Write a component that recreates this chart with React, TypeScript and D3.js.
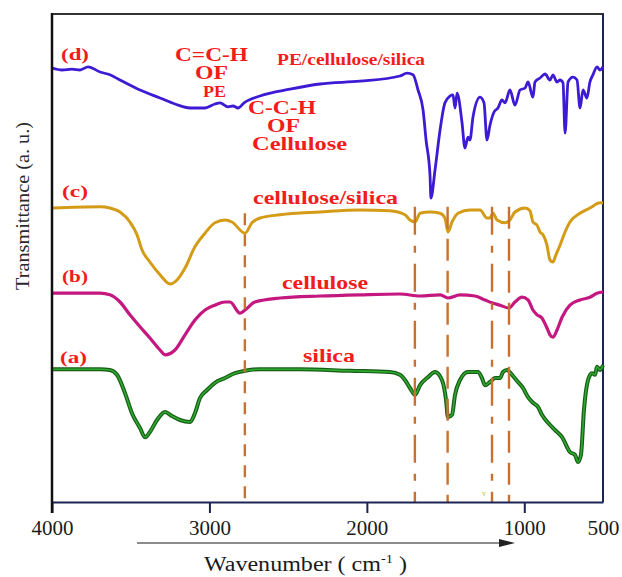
import { useEffect, useRef } from 'react'
import * as d3 from 'd3'

type Pt = [number, number]

// [wavenumber cm-1, transmittance a.u.]
const PE_CELL_SILICA: Pt[] = [[4000,108.5],[3936,108],[3873,108.2],[3822,108],[3771,108.8],[3695,107.5],[3632,106.8],[3568,105.5],[3441,103],[3314,101],[3219,99.5],[3123,98.5],[3028,98.5],[2965,99.5],[2933,99.8],[2882,98.8],[2850,99],[2818,98.5],[2780,99.8],[2679,101.5],[2488,103.2],[2298,104.5],[2044,105.2],[1790,106.5],[1745,107.2],[1707,106.8],[1675,103],[1643,98],[1624,90.5],[1599,81.8],[1593,76],[1567,83],[1535,93],[1504,99.8],[1472,101.5],[1453,101.8],[1440,98.5],[1427,102.2],[1396,95],[1377,88.5],[1358,91.2],[1345,90.5],[1326,96.2],[1281,101.2],[1256,99.8],[1237,90.5],[1218,94.2],[1192,97.5],[1167,98.5],[1142,100.5],[1122,99.8],[1091,103],[1059,99.2],[1027,103],[995,103.5],[976,105],[945,101.2],[932,105],[900,106],[868,107],[837,105.5],[818,106.8],[792,105],[773,105.5],[754,104.8],[741,92.2],[722,105],[691,106.2],[665,105.5],[646,98.5],[627,103],[602,101],[583,105],[564,106.8],[538,108.8],[519,108],[500,108.8]]
const CELL_SILICA: Pt[] = [[4000,73.5],[3695,73.8],[3632,73.5],[3568,72.5],[3505,70],[3460,66.8],[3428,63],[3378,60],[3314,56.8],[3250,54.5],[3206,55.5],[3155,58.5],[3092,63.8],[3028,67.2],[2965,69.8],[2901,70.5],[2857,70],[2774,67.2],[2730,69.8],[2679,71],[2552,71.8],[2298,72.5],[2044,73],[1853,72.8],[1758,71.8],[1726,70.5],[1694,70],[1662,72.2],[1599,72.5],[1535,72.2],[1504,71],[1485,67.5],[1459,70],[1421,72.2],[1345,73],[1281,73],[1237,71],[1218,71],[1199,72.2],[1173,70.5],[1122,69.8],[1091,70.5],[1059,72.5],[995,73.5],[964,72.8],[945,70],[919,69.2],[900,67.5],[881,66.8],[856,64.2],[837,60.5],[818,60],[799,61.8],[773,64.2],[741,67.5],[710,70],[646,72.2],[583,73.5],[519,74.8],[500,74.8]]
const CELLULOSE: Pt[] = [[4000,52.2],[3695,52.2],[3632,51.8],[3568,50],[3505,46.8],[3441,43.8],[3378,41],[3314,38],[3282,36.8],[3219,38],[3155,41.8],[3092,45.5],[3028,48],[2965,49.2],[2901,50],[2869,50],[2806,47.2],[2774,48],[2711,50],[2552,51],[2298,51.5],[2044,51.8],[1790,52],[1662,51.5],[1535,51.8],[1485,51],[1408,51.8],[1313,51.5],[1250,50.5],[1205,49.8],[1154,49.2],[1097,48.5],[1059,50],[1015,51.2],[976,50.5],[945,48],[919,46.8],[888,46],[856,43.5],[837,41.8],[818,41.2],[792,43],[760,46.2],[710,49.2],[646,50.5],[583,51.2],[538,52.2],[500,52.5]]
const SILICA: Pt[] = [[4000,33.2],[3695,33.2],[3632,33],[3587,31.8],[3536,27.2],[3492,22.2],[3441,18.5],[3409,16.2],[3378,17.5],[3333,20.5],[3282,22.5],[3238,21.5],[3187,20.5],[3123,20],[3092,22.2],[3060,26],[3015,28],[2965,29.8],[2901,31],[2838,32.2],[2774,32.8],[2679,33.2],[2425,33.2],[2107,32.8],[1853,32.5],[1790,31.8],[1758,30.5],[1726,28.5],[1694,26.8],[1662,29.2],[1612,31.2],[1567,32.5],[1523,30.5],[1497,25.5],[1485,21.2],[1459,21.8],[1440,26.8],[1408,30.5],[1358,32.5],[1294,32.5],[1269,31],[1250,29.2],[1218,30],[1186,31],[1154,31],[1135,32.5],[1110,33],[1078,31.8],[1040,30],[1008,28.5],[976,26.2],[945,24.8],[913,23.8],[888,21.8],[849,19.8],[805,18],[760,16.2],[710,12.5],[678,11.8],[659,10],[640,11.8],[621,23],[595,30.5],[570,32.2],[551,31.8],[538,33.8],[519,33],[500,34.2]]

const BAND_LINES = [2775, 1695, 1487, 1205, 1097]
const X_TICKS = [4000, 3000, 2000, 1000, 500]

const W = 622, H = 577
const M = { left: 52, right: 603, top: 14, bottom: 502 }
const RED = '#f41b1b'
const BROWN = '#c9722f'
const NAVY = '#1c2456'
const SERIF = '"Liberation Serif", "Times New Roman", serif'

export default function App() {
  const axisRef = useRef<SVGGElement>(null)
  const x = d3.scaleLinear().domain([4000, 500]).range([M.left, M.right])
  const y = d3.scaleLinear().domain([0, 122]).range([M.bottom, M.top])
  const line = d3.line<Pt>().x(d => x(d[0])).y(d => y(d[1])).curve(d3.curveMonotoneX)

  useEffect(() => {
    if (!axisRef.current) return
    const g = d3.select(axisRef.current)
    g.selectAll('*').remove()
    g.call(d3.axisBottom(x).tickValues(X_TICKS).tickSize(11).tickSizeOuter(0).tickFormat(d3.format('d')))
    g.select('.domain').attr('stroke', NAVY).attr('stroke-width', 2)
    g.selectAll('.tick line').attr('stroke', NAVY).attr('stroke-width', 2)
    g.selectAll<SVGGElement, number>('.tick').filter(d => d === 500).select('line').remove()
    g.selectAll<SVGTextElement, number>('.tick text')
      .attr('y', 33).attr('dy', 0)
      .attr('fill', '#1a1a1a')
      .style('font-family', SERIF).style('font-size', '20px')
      .attr('textLength', d => (d === 500 ? 32 : 42))
      .attr('lengthAdjust', 'spacingAndGlyphs')
  }, [])

  const dashFor = (i: number) => (i === 1 || i === 3 ? '28,11,7,11' : i === 0 ? '12,9' : '22,10')

  const lab = (t: string, px: number, py: number, size: number, len: number, key: string) => (
    <text key={key} x={px} y={py} fill={RED} fontWeight="bold" fontSize={size} fontFamily={SERIF}
      textLength={len} lengthAdjust="spacingAndGlyphs">{t}</text>
  )

  return (
    <svg width={W} height={H} style={{ position: 'absolute', left: 0, top: 0, background: '#fff' }}>
      {/* frame */}
      <line x1={M.left} x2={M.right + 1} y1={M.top} y2={M.top} stroke="#333" strokeWidth={2} />
      <line x1={M.right} x2={M.right} y1={M.top} y2={M.bottom} stroke={NAVY} strokeWidth={2} />

      {/* spectra */}
      <path d={line(PE_CELL_SILICA) ?? ''} fill="none" stroke="#3d1ad4" strokeWidth={2.8} strokeLinejoin="round" />
      <path d={line(CELL_SILICA) ?? ''} fill="none" stroke="#d49b17" strokeWidth={3} strokeLinejoin="round" />
      <path d={line(CELLULOSE) ?? ''} fill="none" stroke="#c4177f" strokeWidth={3.2} strokeLinejoin="round" />
      <path d={line(SILICA) ?? ''} fill="none" stroke="#175c17" strokeWidth={4} strokeLinejoin="round" />
      <path d={line(SILICA) ?? ''} fill="none" stroke="#2eaa2e" strokeWidth={1.6} strokeLinejoin="round" />

      {/* band markers */}
      {BAND_LINES.map((wn, i) => (
        <line key={wn} x1={x(wn)} x2={x(wn)} y1={i === 0 ? y(72.2) : y(73.8)} y2={M.bottom}
          stroke={BROWN} strokeWidth={2.4} strokeDasharray={dashFor(i)} />
      ))}

      <g ref={axisRef} transform={`translate(0,${M.bottom})`} />
      <line x1={M.left} x2={M.left} y1={M.top - 1} y2={M.bottom + 11} stroke="#111" strokeWidth={2.5} />

      {/* labels */}
      {lab('(d)', 61, 60, 17, 28, 'd')}
      {lab('(c)', 62, 197, 17, 26, 'c')}
      {lab('(b)', 62, 282, 17, 26, 'b')}
      {lab('(a)', 60, 363, 17, 27, 'a')}
      {lab('C=C-H', 175, 61, 18, 73, 'cch')}
      {lab('OF', 195, 79, 18, 33, 'of1')}
      {lab('PE', 203, 97, 17, 23, 'pe')}
      {lab('PE/cellulose/silica', 277, 65, 16, 148, 'pcs')}
      {lab('C-C-H', 248, 114, 18, 68, 'cch2')}
      {lab('OF', 267, 132, 18, 33, 'of2')}
      {lab('Cellulose', 252, 150, 18, 95, 'cel')}
      {lab('cellulose/silica', 253, 204, 19, 145, 'cs')}
      {lab('cellulose', 282, 289, 19, 86, 'cl')}
      {lab('silica', 303, 362, 19, 52, 'si')}
      <text x={482} y={496} fontSize={8} fill="#b5c24a" fontFamily={SERIF}>v</text>

      {/* axis titles */}
      <line x1={137} x2={502} y1={543} y2={543} stroke="#666" strokeWidth={1.5} />
      <path d="M499,539 L515,543 L499,547 Z" fill="#222" />
      <text x={204} y={571} fontSize={20} fontFamily={SERIF} fill="#1a1a1a" textLength={203} lengthAdjust="spacingAndGlyphs">
        Wavenumber ( cm<tspan dy={-8} fontSize={12}>-1</tspan><tspan dy={8}> )</tspan>
      </text>
      <text transform="translate(29,206) rotate(-90)" textAnchor="middle" fontSize={19} fontFamily={SERIF} fill="#2a2a2a"
        textLength={168} lengthAdjust="spacingAndGlyphs">Transmittance (a. u.)</text>
    </svg>
  )
}
